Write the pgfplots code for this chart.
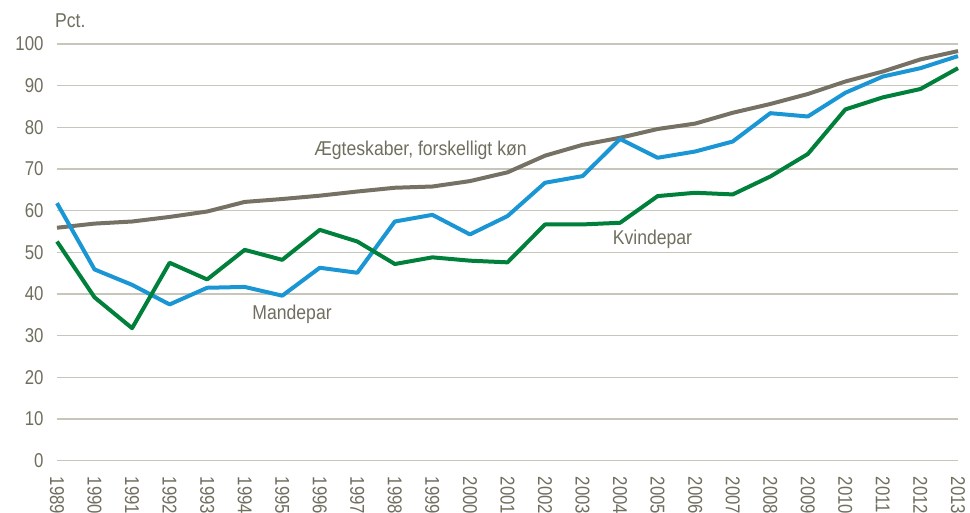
\documentclass[border=0pt]{standalone}
\usepackage{pgfplots}
\pgfplotsset{compat=1.18}
\usepackage{fontspec}
\setmainfont{Liberation Sans}[FakeStretch=0.84]
\newfontfamily\lab{Liberation Sans}[FakeStretch=0.88]
\definecolor{txt}{RGB}{112,110,95}
\definecolor{gridc}{RGB}{200,198,186}
\definecolor{cgray}{RGB}{117,113,100}
\definecolor{cblue}{RGB}{26,150,212}
\definecolor{cgreen}{RGB}{0,128,58}
\begin{document}
\begin{tikzpicture}
\useasboundingbox (-57pt,-52.3pt) rectangle (913pt,460.7pt);
\begin{axis}[
  at={(0pt,0pt)}, anchor=south west,
  scale only axis, width=901pt, height=416.7pt,
  xmin=1989, xmax=2013, ymin=0, ymax=100,
  xtick={1989,...,2013}, ytick={0,10,...,100},
  axis line style={draw=none},
  major tick length=0pt,
  ymajorgrids, grid style={gridc, line width=1.5pt},
  /pgf/number format/assume math mode=true,
  /pgf/number format/1000 sep={},
  tick label style={txt, font=\fontsize{20}{24}\selectfont},
  x tick label style={rotate=-90, anchor=west, inner sep=0pt},
  xticklabel shift=16pt,
  yticklabel shift=10pt,
  clip=false,
  every axis plot/.append style={line width=4pt, line join=round},
]
\addplot[cgray] coordinates {
(1989,55.9)(1990,56.9)(1991,57.4)(1992,58.5)(1993,59.8)(1994,62.1)(1995,62.8)
(1996,63.6)(1997,64.6)(1998,65.5)(1999,65.8)(2000,67.1)(2001,69.2)(2002,73.2)
(2003,75.8)(2004,77.5)(2005,79.6)(2006,80.9)(2007,83.5)(2008,85.6)(2009,88.0)
(2010,91.0)(2011,93.4)(2012,96.3)(2013,98.3)};
\addplot[cblue] coordinates {
(1989,61.8)(1990,45.9)(1991,42.2)(1992,37.5)(1993,41.5)(1994,41.7)(1995,39.6)
(1996,46.3)(1997,45.1)(1998,57.4)(1999,59.0)(2000,54.3)(2001,58.7)(2002,66.7)
(2003,68.3)(2004,77.2)(2005,72.7)(2006,74.2)(2007,76.6)(2008,83.4)(2009,82.6)
(2010,88.3)(2011,92.2)(2012,94.2)(2013,97.1)};
\addplot[cgreen] coordinates {
(1989,52.6)(1990,39.2)(1991,31.8)(1992,47.5)(1993,43.5)(1994,50.6)(1995,48.2)
(1996,55.4)(1997,52.6)(1998,47.2)(1999,48.8)(2000,48.0)(2001,47.6)(2002,56.7)
(2003,56.7)(2004,57.1)(2005,63.5)(2006,64.3)(2007,63.9)(2008,68.2)(2009,73.6)
(2010,84.3)(2011,87.2)(2012,89.2)(2013,94.2)};
\node[anchor=west, inner sep=0pt, txt, font=\lab\fontsize{20}{24}\selectfont] at (axis cs:1995.85,74.6) {Ægteskaber, forskelligt køn};
\node[anchor=west, inner sep=0pt, txt, font=\lab\fontsize{20}{24}\selectfont] at (axis cs:1994.2,35.2) {Mandepar};
\node[anchor=west, inner sep=0pt, txt, font=\lab\fontsize{20}{24}\selectfont] at (axis cs:2003.8,53.2) {Kvindepar};
\node[anchor=base west, inner sep=0pt, txt, font=\lab\fontsize{20}{24}\selectfont] at (rel axis cs:0,1) [yshift=16pt, xshift=-2pt] {Pct.};
\end{axis}
\end{tikzpicture}
\end{document}
